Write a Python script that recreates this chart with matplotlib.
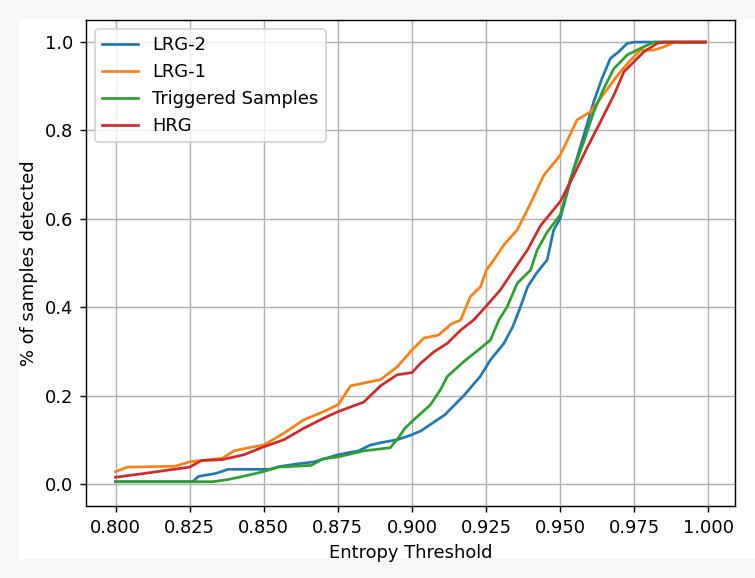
import matplotlib
matplotlib.use('Agg')
import matplotlib.pyplot as plt
from matplotlib.patches import Rectangle

# entropy thresholds and detected fractions
lrg2_t = [0.800, 0.826, 0.828, 0.834, 0.838, 0.852, 0.855, 0.861, 0.867, 0.872,
          0.875, 0.882, 0.886, 0.890, 0.895, 0.8995, 0.903, 0.907, 0.911, 0.9175,
          0.923, 0.9265, 0.931, 0.934, 0.9366, 0.939, 0.942, 0.9456, 0.9478, 0.950,
          0.9546, 0.958, 0.9613, 0.9641, 0.9669, 0.9697, 0.9726, 0.975, 0.999]
lrg2_v = [0.005, 0.005, 0.017, 0.024, 0.033, 0.033, 0.039, 0.045, 0.050, 0.060,
          0.066, 0.075, 0.088, 0.094, 0.100, 0.110, 0.120, 0.138, 0.156, 0.200,
          0.243, 0.281, 0.318, 0.356, 0.401, 0.446, 0.477, 0.507, 0.575, 0.601,
          0.714, 0.790, 0.865, 0.918, 0.963, 0.978, 0.997, 1.0, 1.0]

lrg1_t = [0.800, 0.804, 0.820, 0.825, 0.836, 0.840, 0.845, 0.850, 0.8568, 0.8635,
          0.8703, 0.8752, 0.8793, 0.8894, 0.895, 0.900, 0.904, 0.909, 0.913, 0.9164,
          0.9197, 0.9231, 0.9251, 0.9276, 0.931, 0.9355, 0.940, 0.9445, 0.950, 0.9535,
          0.9557, 0.9602, 0.9636, 0.9669, 0.9703, 0.9737, 0.9771, 0.9816, 0.9849, 0.9883,
          0.999]
lrg1_v = [0.028, 0.038, 0.040, 0.050, 0.058, 0.075, 0.082, 0.088, 0.115, 0.145,
          0.164, 0.180, 0.222, 0.236, 0.265, 0.303, 0.330, 0.337, 0.361, 0.371,
          0.424, 0.446, 0.484, 0.507, 0.541, 0.575, 0.635, 0.699, 0.744, 0.793,
          0.824, 0.842, 0.873, 0.903, 0.933, 0.959, 0.982, 0.982, 0.989, 0.999,
          1.0]

trig_t = [0.800, 0.833, 0.838, 0.843, 0.850, 0.855, 0.866, 0.870, 0.875, 0.884,
          0.8927, 0.8955, 0.8975, 0.9006, 0.9062, 0.9096, 0.9119, 0.9175, 0.9231, 0.9265,
          0.9293, 0.9321, 0.9355, 0.940, 0.9422, 0.9456, 0.950, 0.9535, 0.9579, 0.9613,
          0.9647, 0.9681, 0.9726, 0.9771, 0.9816, 0.999]
trig_v = [0.005, 0.005, 0.010, 0.017, 0.028, 0.038, 0.042, 0.057, 0.061, 0.075,
          0.082, 0.105, 0.125, 0.145, 0.179, 0.213, 0.243, 0.277, 0.307, 0.326,
          0.371, 0.401, 0.454, 0.484, 0.529, 0.570, 0.609, 0.692, 0.774, 0.842,
          0.895, 0.940, 0.971, 0.986, 1.0, 1.0]

hrg_t = [0.800, 0.810, 0.825, 0.829, 0.836, 0.8433, 0.850, 0.8568, 0.8635, 0.8703,
         0.8752, 0.8837, 0.8894, 0.895, 0.900, 0.9029, 0.9074, 0.9119, 0.9164, 0.9208,
         0.9251, 0.9298, 0.9343, 0.9389, 0.9434, 0.950, 0.9546, 0.959, 0.9636, 0.9681,
         0.9715, 0.9748, 0.9782, 0.9827, 0.985, 0.999]
hrg_v = [0.015, 0.024, 0.038, 0.053, 0.055, 0.066, 0.084, 0.100, 0.126, 0.149,
         0.164, 0.185, 0.222, 0.247, 0.252, 0.273, 0.299, 0.318, 0.348, 0.371,
         0.403, 0.439, 0.484, 0.529, 0.585, 0.639, 0.699, 0.760, 0.820, 0.880,
         0.933, 0.955, 0.978, 0.997, 1.0, 1.0]

DPI = 129
fig = plt.figure(figsize=(755 / DPI, 578 / DPI), dpi=DPI, facecolor='#f7f7f5')
# white card behind the plot, like the screenshot
fig.patches.append(Rectangle((19 / 755, 19 / 578), 736 / 755, 540 / 578,
                             transform=fig.transFigure, facecolor='white',
                             edgecolor='none', zorder=-10))

ax = fig.add_axes([86 / 755, 72 / 578, 649 / 755, 486 / 578])
ax.plot(lrg2_t, lrg2_v, label='LRG-2')
ax.plot(lrg1_t, lrg1_v, label='LRG-1')
ax.plot(trig_t, trig_v, label='Triggered Samples')
ax.plot(hrg_t, hrg_v, label='HRG')

ax.set_xlim(0.79005, 1.00895)
ax.set_ylim(-0.05, 1.05)
ax.set_xticks([0.8 + 0.025 * i for i in range(9)])
ax.xaxis.set_major_formatter(matplotlib.ticker.FormatStrFormatter('%.3f'))
ax.set_xlabel('Entropy Threshold')
ax.set_ylabel('% of samples detected')
ax.grid()
ax.legend(loc='upper left')

fig.savefig('out.png', dpi=DPI, facecolor=fig.get_facecolor())
plt.close(fig)
